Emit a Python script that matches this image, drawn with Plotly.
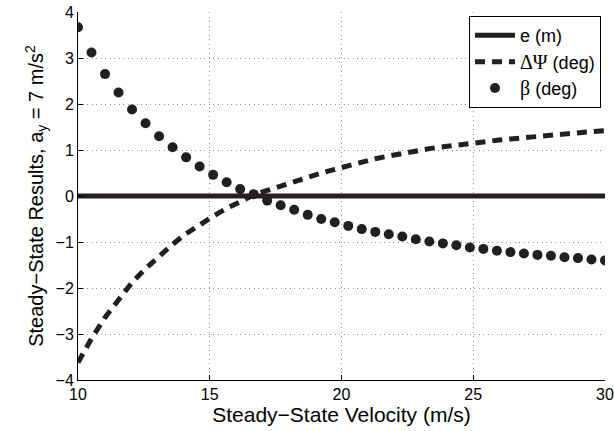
import plotly.graph_objects as go
import numpy as np

# Data
velocity = np.linspace(10, 30, 40).tolist()

beta_deg = [3.67, 3.12, 2.65, 2.25, 1.88, 1.58, 1.30, 1.06, 0.84, 0.64,
            0.46, 0.30, 0.15, 0.04, -0.10, -0.20, -0.30, -0.41, -0.50, -0.57,
            -0.65, -0.72, -0.78, -0.83, -0.88, -0.94, -0.99, -1.03, -1.07, -1.12,
            -1.15, -1.19, -1.22, -1.25, -1.28, -1.30, -1.33, -1.35, -1.38, -1.40]

dpsi_deg = [-3.62, -3.10, -2.64, -2.25, -1.88, -1.58, -1.30, -1.05, -0.82, -0.62,
            -0.44, -0.27, -0.12, 0.02, 0.12, 0.22, 0.31, 0.41, 0.50, 0.58,
            0.66, 0.74, 0.81, 0.87, 0.93, 0.98, 1.03, 1.07, 1.11, 1.15,
            1.18, 1.21, 1.24, 1.27, 1.30, 1.33, 1.35, 1.37, 1.40, 1.42]

e_m = [0.0] * 40

x_ticks = [10, 15, 20, 25, 30]
y_ticks = [-4, -3, -2, -1, 0, 1, 2, 3, 4]

ink = "#231f20"
serif = "Liberation Serif"

fig = go.Figure()
fig.add_trace(go.Scatter(x=velocity, y=e_m, mode="lines", name="e (m)",
                         line=dict(color=ink, width=5)))
fig.add_trace(go.Scatter(x=velocity, y=dpsi_deg, mode="lines",
                         name=f"<span style='font-family:{serif};font-size:20px'>ΔΨ</span> (deg)",
                         line=dict(color=ink, width=5, dash="10px,7px")))
fig.add_trace(go.Scatter(x=velocity, y=beta_deg, mode="markers",
                         name=f"<span style='font-family:{serif};font-size:20px'>β</span> (deg)",
                         marker=dict(color=ink, size=10)))

axis_common = dict(
    showline=True, linecolor="black", linewidth=1,
    ticks="inside", ticklen=5, tickcolor="black",
    showgrid=True, gridcolor="#8c8c8c", griddash="1px,3.5px", gridwidth=1,
    zeroline=False, mirror=False, automargin=False,
    tickfont=dict(family="Liberation Sans", size=16, color="black"),
)

fig.update_layout(
    width=614, height=431,
    margin=dict(l=78, r=9, t=12, b=51),
    paper_bgcolor="white", plot_bgcolor="white",
    font=dict(family="Liberation Sans", color="black"),
    xaxis=dict(range=[10, 30], tickvals=x_ticks,
               title=dict(text="Steady−State Velocity (m/s)",
                          font=dict(size=21), standoff=2),
               **axis_common),
    yaxis=dict(range=[-4, 4], tickvals=y_ticks,
               title=dict(text="Steady−State Results, a<sub>y</sub> = 7 m/s<sup>2</sup>",
                          font=dict(size=20), standoff=6),
               **axis_common),
    legend=dict(x=0.9924, y=0.989, xanchor="right", yanchor="top",
                bgcolor="white", bordercolor="black", borderwidth=1,
                font=dict(family="Liberation Sans", size=18, color="black"),
                tracegroupgap=0, itemwidth=40),
    showlegend=True,
)

fig.write_html("out.html")
